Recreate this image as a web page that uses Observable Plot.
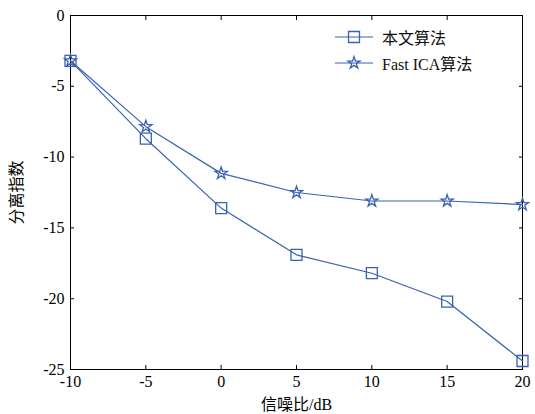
<!DOCTYPE html>
<html><head><meta charset="utf-8">
<script src="https://cdn.jsdelivr.net/npm/d3@7"></script>
<script src="https://cdn.jsdelivr.net/npm/@observablehq/plot@0.6"></script>
<style>
body{margin:0;background:#fff;}
#wrap{position:relative;width:535px;height:414px;font-family:"Liberation Serif","Noto Sans CJK SC",serif;}
#legend{position:absolute;left:334px;top:24px;font-size:16px;color:#111;}
#legend .row{display:flex;align-items:center;height:26px;}
#legend svg{margin-right:8px;}
</style></head><body>
<div id="wrap"></div>
<script>
const snr = [-10, -5, 0, 5, 10, 15, 20];
const proposed = [-3.2, -8.7, -13.6, -16.9, -18.2, -20.2, -24.4];
const fastica = [-3.2, -7.85, -11.15, -12.5, -13.1, -13.1, -13.35];
const seriesNames = ["本文算法", "Fast ICA算法"];
const xTicks = [-10, -5, 0, 5, 10, 15, 20];
const yTicks = [0, -5, -10, -15, -20, -25];
const color = "#3b62b0";

const rows = [];
snr.forEach((x, i) => {
  rows.push({x, y: proposed[i], s: seriesNames[0]});
  rows.push({x, y: fastica[i], s: seriesNames[1]});
});
const A = rows.filter(d => d.s === seriesNames[0]);
const B = rows.filter(d => d.s === seriesNames[1]);

const chart = Plot.plot({
  width: 535, height: 414,
  marginLeft: 70, marginRight: 13, marginTop: 15, marginBottom: 45,
  style: {fontFamily: '"Liberation Serif","Noto Sans CJK SC",serif', fontSize: "16px", color: "#000", background: "#fff"},
  x: {domain: [-10, 20]},
  y: {domain: [-25, 0]},
  marks: [
    Plot.frame({stroke: "#000", strokeWidth: 1}),
    Plot.axisX({ticks: xTicks, tickSize: -4, tickPadding: 10, tickFormat: d => String(d), label: "信噪比/dB", labelAnchor: "center", labelArrow: "none", labelOffset: 40, fontSize: 16}),
    Plot.axisX({anchor: "top", ticks: xTicks, tickSize: -4, tickFormat: () => "", label: null}),
    Plot.axisY({ticks: yTicks, tickSize: -4, tickPadding: 10, tickFormat: d => String(d), label: "分离指数", labelAnchor: "center", labelArrow: "none", labelOffset: 60, fontSize: 16}),
    Plot.axisY({anchor: "right", ticks: yTicks, tickSize: -4, tickFormat: () => "", label: null}),
    Plot.line(A, {x: "x", y: "y", stroke: color, strokeWidth: 1.2}),
    Plot.line(B, {x: "x", y: "y", stroke: color, strokeWidth: 1.2}),
    Plot.dot(A, {x: "x", y: "y", symbol: "square", r: 6.2, stroke: color, fill: "none", strokeWidth: 1.3}),
    Plot.dot(B, {x: "x", y: "y", symbol: "star", r: 3.8, stroke: color, fill: "none", strokeWidth: 1.3})
  ]
});
const wrap = document.getElementById("wrap");
wrap.appendChild(chart);

const leg = document.createElement("div");
leg.id = "legend";
seriesNames.forEach((name, i) => {
  const row = document.createElement("div");
  row.className = "row";
  const sym = d3.symbol(i === 0 ? d3.symbolSquare : d3.symbolStar, i === 0 ? 121 : 45)();
  row.innerHTML = `<svg width="40" height="20"><line x1="1" x2="39" y1="10" y2="10" stroke="${color}" stroke-width="1.2"/><path d="${sym}" transform="translate(20,10)" fill="none" stroke="${color}" stroke-width="1.3"/></svg><span>${name}</span>`;
  leg.appendChild(row);
});
wrap.appendChild(leg);
</script>
</body></html>
